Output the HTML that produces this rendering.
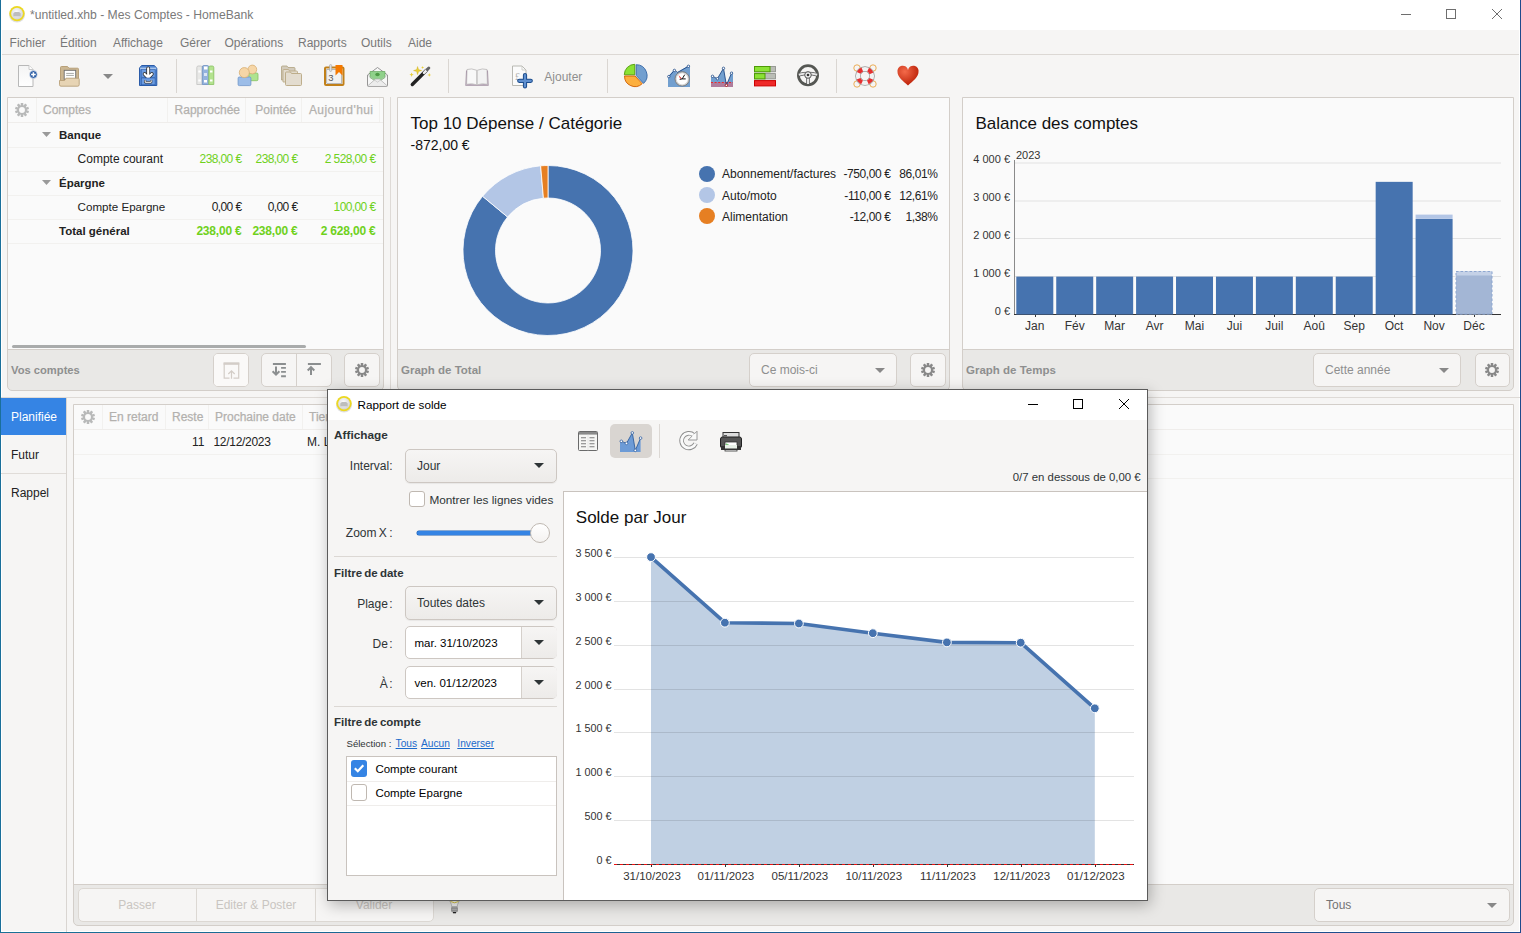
<!DOCTYPE html>
<html><head><meta charset="utf-8"><title>HomeBank</title><style>
html,body{margin:0;padding:0;width:1521px;height:933px;overflow:hidden;background:#f6f5f4}
.a{position:absolute}
.t{position:absolute;white-space:nowrap;font-family:"Liberation Sans",sans-serif;line-height:20px}
svg.a{overflow:visible}
</style></head><body>
<div class="a" style="left:0px;top:0px;width:1521px;height:933px;background:#f6f5f4"></div>
<div class="a" style="left:1px;top:0px;width:1519px;height:30px;background:#fff"></div>
<div class="a" style="left:0px;top:0px;width:1px;height:933px;background:#1a6f9a"></div>
<div class="a" style="left:1520px;top:0px;width:1px;height:933px;background:#1f4a8c"></div>
<div class="a" style="left:0px;top:932px;width:1521px;height:1px;background:linear-gradient(90deg,#1a7196,#1f4a8c)"></div>
<div class="a" style="left:1px;top:931px;width:1519px;height:1px;background:#fff"></div>
<div class="a" style="left:1519px;top:30px;width:1px;height:902px;background:#fff"></div>
<div class="a" style="left:1px;top:30px;width:1px;height:902px;background:#fff"></div>
<svg class="a" style="left:8px;top:5px;" width="18" height="18" viewBox="0 0 18 18"><defs><radialGradient id="ig8" cx=".45" cy=".35" r=".7"><stop offset="0" stop-color="#fbfbfc"/><stop offset="1" stop-color="#cfd0d4"/></radialGradient></defs><ellipse cx="9" cy="10" rx="8" ry="7.6" fill="#000" opacity=".12"/><circle cx="9" cy="8.6" r="7.7" fill="#ecd820"/><circle cx="9" cy="8.6" r="5.9" fill="url(#ig8)"/><path d="M5.3 11.2v-2.6l1.5-1.6h4.4l1.5 1.6v2.6z" fill="#bdbdbd"/></svg>
<div class="t" style="left:30px;top:5px;font-size:12.15px;color:#7a7a7a;">*untitled.xhb - Mes Comptes - HomeBank</div>
<div class="a" style="left:1401px;top:14px;width:10px;height:1px;background:#6e6e6e"></div>
<div class="a" style="left:1446px;top:9px;width:10px;height:10px;border:1px solid #6e6e6e;box-sizing:border-box"></div>
<svg class="a" style="left:1492px;top:9px;" width="10" height="10" viewBox="0 0 10 10"><path d="M0 0L10 10M10 0L0 10" stroke="#6e6e6e" stroke-width="1"/></svg>
<div class="t" style="left:9.6px;top:33px;font-size:12px;color:#787878;">Fichier</div>
<div class="t" style="left:60px;top:33px;font-size:12px;color:#787878;">Édition</div>
<div class="t" style="left:113px;top:33px;font-size:12px;color:#787878;">Affichage</div>
<div class="t" style="left:180px;top:33px;font-size:12px;color:#787878;">Gérer</div>
<div class="t" style="left:224.5px;top:33px;font-size:12px;color:#787878;">Opérations</div>
<div class="t" style="left:298px;top:33px;font-size:12px;color:#787878;">Rapports</div>
<div class="t" style="left:361px;top:33px;font-size:12px;color:#787878;">Outils</div>
<div class="t" style="left:408px;top:33px;font-size:12px;color:#787878;">Aide</div>
<div class="a" style="left:2px;top:54px;width:1517px;height:1px;background:#dcd8d4"></div>
<div class="a" style="left:176px;top:59px;width:1px;height:34px;background:#dad6d2"></div>
<div class="a" style="left:448px;top:59px;width:1px;height:34px;background:#dad6d2"></div>
<div class="a" style="left:607px;top:59px;width:1px;height:34px;background:#dad6d2"></div>
<div class="a" style="left:836px;top:59px;width:1px;height:34px;background:#dad6d2"></div>
<svg class="a" style="left:18px;top:64px;" width="20" height="24" viewBox="0 0 20 24"><defs><linearGradient id="pg" x1="0" y1="0" x2="0" y2="1"><stop offset="0" stop-color="#f4f4f4"/><stop offset="1" stop-color="#fff"/></linearGradient></defs><path d="M0.5 1.5h10.5l4 4v17h-14.5z" fill="url(#pg)" stroke="#b8b8b8"/><path d="M11 1.5v4h4" fill="#fff" stroke="#c9c9c9"/><circle cx="15.4" cy="10.5" r="3.9" fill="#2d5ea5" stroke="#fff" stroke-width=".6"/><path d="M15.4 8.2v4.6M13.1 10.5h4.6" stroke="#fff" stroke-width="1.5"/></svg>
<svg class="a" style="left:59px;top:65px;" width="21" height="22" viewBox="0 0 21 22"><path d="M1.5 2.5a1 1 0 0 1 1-1h6l1.5 1.7h8.5a1 1 0 0 1 1 1V16H1.5z" fill="#cbb692" stroke="#b39a70" stroke-width=".9"/><rect x="5.2" y="5.3" width="11.5" height="9" fill="#fff" stroke="#6e6e6e" stroke-width=".9"/><path d="M7.2 8.4h7.7M7.2 10.4h7.7" stroke="#a8aaa6" stroke-width="1"/><path d="M0.5 15.5h5l1.5-2.3h12.2a1 1 0 0 1 1 1v5.5a1.5 1.5 0 0 1-1.5 1.5H2a1.5 1.5 0 0 1-1.5-1.5z" fill="#e7d4b4" stroke="#b9a079" stroke-width=".9"/></svg>
<svg class="a" style="left:103px;top:74px;" width="10" height="6" viewBox="0 0 10 6"><path d="M0 0h10l-5 5z" fill="#888"/></svg>
<svg class="a" style="left:139px;top:65px;" width="19" height="21" viewBox="0 0 19 21"><path d="M2.6 0.5h12.6l2.6 2.6v17.4H0.5V3.1z" fill="#4f84d0" stroke="#2a5ba8" stroke-width="1"/><rect x="1.1" y="2.6" width="16.2" height="1.8" fill="#a9c5ec"/><rect x="2.3" y="4.6" width="13.8" height="7.6" fill="#6b9be0" stroke="#3b6cb8" stroke-width=".6"/><path d="M9.2 3.3v8.2M5.6 9l3.6 3.6 3.6-3.6" fill="none" stroke="#2b2b2b" stroke-width="3.8" stroke-linecap="round" stroke-linejoin="round"/><path d="M9.2 3.3v8.2M5.6 9l3.6 3.6 3.6-3.6" fill="none" stroke="#fff" stroke-width="2.2" stroke-linecap="round" stroke-linejoin="round"/><rect x="2.3" y="13" width="13.8" height="6.8" fill="#6b9be0" stroke="#2a5ba8" stroke-width=".6"/><path d="M6.2 15.3v2h6v-2" fill="none" stroke="#333" stroke-width="2.2" stroke-linejoin="round"/><path d="M6.2 15.3v2h6v-2" fill="none" stroke="#fff" stroke-width="1"/></svg>
<svg class="a" style="left:196px;top:65px;" width="19" height="21" viewBox="0 0 19 21"><path d="M0.8 2.5a1.5 1.5 0 0 1 1.5-1.5h2.5a1.5 1.5 0 0 1 1.5 1.5v17h-5.5z" fill="#e8e8e6" stroke="#c2c2c0" stroke-width=".8"/><path d="M6.3 2a1.5 1.5 0 0 1 1.5-1.5h3.5a1.5 1.5 0 0 1 1.5 1.5v17.5h-6.5z" fill="#94b3dd" stroke="#6d8fc0" stroke-width=".8"/><path d="M12.8 2.5a1.5 1.5 0 0 1 1.5-1.5h2a1.5 1.5 0 0 1 1.5 1.5v17h-5z" fill="#b4e38f" stroke="#86c060" stroke-width=".8"/><rect x="2.3" y="5.5" width="2.5" height="2" fill="#fff"/><rect x="2.3" y="14.5" width="2.5" height="2" fill="#fff"/><rect x="8" y="1.5" width="3.5" height="3" fill="#fff"/><rect x="8" y="8" width="3" height="3" fill="#dbe6f4"/><rect x="8" y="15" width="3" height="2.5" fill="#fff"/><rect x="14" y="5.5" width="2.5" height="2" fill="#fff"/><rect x="14" y="14.5" width="2.5" height="2" fill="#fff"/></svg>
<svg class="a" style="left:237px;top:64px;" width="22" height="22" viewBox="0 0 22 22"><rect x="11.8" y="9" width="9.2" height="7.7" rx="1.2" fill="#aee38f" stroke="#86c062" stroke-width=".8"/><circle cx="15.3" cy="5.5" r="4.4" fill="#f6d6a7" stroke="#d7ae74" stroke-width=".8"/><rect x="1.1" y="13" width="12.8" height="8.6" rx="1.2" fill="#9cbde8" stroke="#6f95c9" stroke-width=".8"/><circle cx="7.3" cy="8.6" r="5" fill="#f6d6a7" stroke="#d7ae74" stroke-width=".8"/></svg>
<svg class="a" style="left:281px;top:65px;" width="21" height="21" viewBox="0 0 21 21"><path d="M0.5 2a1 1 0 0 1 1-1h4.5l1 1.5h6a1 1 0 0 1 1 1v11.5h-13.5z" fill="#d3cbbc" stroke="#b0a27f" stroke-width=".8"/><path d="M2 5.5a1 1 0 0 1 1-1h4.5l1 1.5h7a1 1 0 0 1 1 1v10h-14.5z" fill="#e2dbcd" stroke="#b9a782" stroke-width=".8"/><path d="M4.5 8a1 1 0 0 1 1-1h4l1 1.5h9a1 1 0 0 1 1 1v10a1 1 0 0 1-1 1h-14a1 1 0 0 1-1-1z" fill="#e3dccf" stroke="#b9a782" stroke-width=".9"/></svg>
<svg class="a" style="left:324px;top:64px;" width="21" height="23" viewBox="0 0 21 23"><rect x="1" y="3.5" width="18.5" height="17.5" rx="1" fill="#fff" stroke="#c1801a" stroke-width="2"/><rect x="2.8" y="5.3" width="15" height="14" fill="#f1f1f1" stroke="#777" stroke-width=".5"/><text x="4.3" y="17" font-family="Liberation Sans" font-size="9.5" fill="#555">3</text><path d="M11.5 1h7v10.5l-3.5-3.5-3.5 3.5z" fill="#f57900"/><rect x="5.5" y="0.5" width="2.2" height="7" rx="1.1" fill="#ddd" stroke="#999" stroke-width=".5"/></svg>
<svg class="a" style="left:367px;top:66px;" width="21" height="21" viewBox="0 0 21 21"><path d="M0.5 9L10.5 1.5 20.5 9v10.5a0.8 0.8 0 0 1-.8.8h-18.4a0.8 0.8 0 0 1-.8-.8z" fill="#f7f7f7" stroke="#8a8a8a" stroke-width=".9"/><path d="M3 5.5h15v6l-7.5 5-7.5-5z" fill="#8fd18a" stroke="#5aa253" stroke-width=".6"/><ellipse cx="10.5" cy="8.5" rx="2.2" ry="1.8" fill="#4e9a46"/><path d="M0.8 19.8L8.5 13h4l7.7 6.8" fill="#ececec" stroke="#aaa" stroke-width=".7"/><path d="M0.8 9.2l9.7 7 9.7-7" fill="none" stroke="#bbb" stroke-width=".6"/></svg>
<svg class="a" style="left:410px;top:66px;" width="21" height="21" viewBox="0 0 21 21"><path d="M2.3 18.5L16.5 4.3" stroke="#222" stroke-width="3.4" stroke-linecap="round"/><path d="M14 6.8L17.3 3.5" stroke="#eee" stroke-width="2.6" stroke-linecap="round"/><path d="M17.3 3.5L18.8 2" stroke="#666" stroke-width="3" stroke-linecap="round"/><path d="M7.6 0.5l1 3.1 3.1 1-3.1 1-1 3.1-1-3.1-3.1-1 3.1-1z" fill="#e8cf3a" stroke="#c4a000" stroke-width=".3"/><path d="M1.6 6.5l.6 1.6 1.6.6-1.6.6-.6 1.6-.6-1.6-1.6-.6 1.6-.6z" fill="#e8cf3a"/><path d="M19.3 7l.5 1.4 1.4.5-1.4.5-.5 1.4-.5-1.4-1.4-.5 1.4-.5z" fill="#e8cf3a"/><path d="M12.6 0l.4 1.1 1.1.4-1.1.4-.4 1.1-.4-1.1-1.1-.4 1.1-.4z" fill="#e8cf3a"/></svg>
<svg class="a" style="left:465px;top:68px;" width="24" height="20" viewBox="0 0 24 20"><path d="M2 1.5q4.5-1.5 9.8 0.8v14.5q-5-1.8-10.2-.5z" fill="#f8f8f8" stroke="#b9b6b6" stroke-width=".8"/><path d="M22 1.5q-4.5-1.5-9.8 0.8v14.5q5-1.8 10.2-.5z" fill="#f2f2f2" stroke="#b9b6b6" stroke-width=".8"/><path d="M1.5 2.5L0.8 17.5h22.4l-.7-15" fill="none" stroke="#a898a8" stroke-width="1"/><path d="M0.8 16.5q5.5-1.2 11.2 0.8 5.7-2 11.2-.8v1.5h-22.4z" fill="#b6a8b6"/></svg>
<svg class="a" style="left:511px;top:65px;" width="22" height="22" viewBox="0 0 22 22"><path d="M1.5 1h9.5l4 4v15.5h-13.5z" fill="#fbfbfb" stroke="#b9b9b3" stroke-width="1"/><path d="M11 1v4h4" fill="none" stroke="#c8c8c2" stroke-width=".8"/><text x="4" y="15" font-family="Liberation Serif" font-size="10" fill="#b0b0b0">£</text><path d="M14 10v11.5M8.2 15.8h11.6" stroke="#1c4c8c" stroke-width="4.2" stroke-linecap="round"/><path d="M14 10v11.5M8.2 15.8h11.6" stroke="#5f8fcf" stroke-width="2.2" stroke-linecap="round"/></svg>
<div class="t" style="left:544.3px;top:66.5px;font-size:12px;color:#8f8f8f;">Ajouter</div>
<svg class="a" style="left:623px;top:63px;" width="25" height="25" viewBox="0 0 25 25"><path d="M11.8 11.8H1.3A10.5 10.5 0 0 1 11.8 1.3z" fill="#8ae234" stroke="#4e9a06" stroke-width=".9"/><path d="M13.2 12.5V1.7A10.8 10.8 0 0 1 20.57 20.4z" fill="#729fcf" stroke="#3465a4" stroke-width=".9"/><path d="M12 13L19.2 20.7A10.5 10.5 0 0 1 1.5 13z" fill="#fcaf3e" stroke="#ce5c00" stroke-width=".9"/></svg>
<svg class="a" style="left:667px;top:64px;" width="24" height="24" viewBox="0 0 24 24"><path d="M1 23V12.6L6.4 6.4 9.7 8.4 20.4 2.3 23 1V23z" fill="#729fcf"/><path d="M1.8 12.6L7.4 6.4 10.7 8.4 21.4 2.3" fill="none" stroke="#204a87" stroke-width=".9"/><g fill="#fff" stroke="#204a87" stroke-width=".8"><circle cx="1.8" cy="12.6" r="1.2"/><circle cx="7.4" cy="6.4" r="1.2"/><circle cx="21.4" cy="2.3" r="1.2"/></g><circle cx="15.2" cy="14.9" r="7.2" fill="#d3d3d3" stroke="#777" stroke-width=".9"/><circle cx="15.2" cy="14.9" r="5.6" fill="#fff"/><path d="M15.2 14.9L11.5 11l1.4 3.2z" fill="#ef2929"/><path d="M15.2 14.9l2.5-4.2M15.2 14.9h3.5M15.2 14.9l-2.5 .5" stroke="#111" stroke-width="1"/></svg>
<svg class="a" style="left:710px;top:65px;" width="24" height="23" viewBox="0 0 24 23"><path d="M1 22V11.3L7.4 13.7 13.5 3.3 16.4 20.3 21.5 8.2 23 6.5V22z" fill="#729fcf"/><rect x="1" y="17.5" width="22" height="4.5" fill="#b07c9c"/><path d="M1 17.5H23" stroke="#ef2929" stroke-width="1" stroke-dasharray="2 1.6"/><path d="M2.5 11.3L7.4 13.7 13.5 3.3 16.4 20.3 21.5 8.2" fill="none" stroke="#204a87" stroke-width=".9"/><g fill="#fff" stroke="#204a87" stroke-width=".8"><circle cx="2.5" cy="11.3" r="1.2"/><circle cx="7.4" cy="13.7" r="1.2"/><circle cx="13.5" cy="3.3" r="1.2"/><circle cx="21.5" cy="8.2" r="1.2"/></g><circle cx="16.4" cy="20.3" r="1.2" fill="#fff" stroke="#a40000" stroke-width=".8"/></svg>
<svg class="a" style="left:753px;top:65px;" width="24" height="22" viewBox="0 0 24 22"><rect x="1.5" y="1.5" width="21" height="5.3" fill="#babdb6" stroke="#888a85" stroke-width=".8"/><rect x="1.5" y="1.5" width="15.5" height="5.3" fill="#8ae234" stroke="#4e9a06" stroke-width="1"/><rect x="1.5" y="8.6" width="21" height="5.3" fill="#babdb6" stroke="#888a85" stroke-width=".8"/><rect x="1.5" y="8.6" width="10.5" height="5.3" fill="#8ae234" stroke="#4e9a06" stroke-width="1"/><rect x="1.5" y="15.6" width="21" height="5.3" fill="#ef2929" stroke="#cc0000" stroke-width="1"/></svg>
<svg class="a" style="left:796px;top:63px;" width="24" height="24" viewBox="0 0 24 24"><circle cx="12" cy="12.2" r="9.6" fill="none" stroke="#555753" stroke-width="2.8"/><path d="M2.8 11.8q9.2-2.5 18.4 0" fill="none" stroke="#555" stroke-width="3.4"/><path d="M2.8 11.8q9.2-2.5 18.4 0" fill="none" stroke="#e6e6e6" stroke-width="2"/><path d="M12 13v8" stroke="#555" stroke-width="3.6"/><path d="M12 13v8" stroke="#e6e6e6" stroke-width="2.2"/><circle cx="12" cy="12" r="3.3" fill="#eee" stroke="#555" stroke-width="1"/><circle cx="12" cy="12" r="1.3" fill="#333"/></svg>
<svg class="a" style="left:853px;top:64px;" width="24" height="24" viewBox="0 0 24 24"><g fill="none" stroke="#e9a545" stroke-width=".9"><circle cx="4" cy="4" r="3.2"/><circle cx="20" cy="4" r="3.2"/><circle cx="4" cy="20" r="3.2"/><circle cx="20" cy="20" r="3.2"/></g><circle cx="12" cy="12" r="7" fill="none" stroke="#999" stroke-width="5.6"/><circle cx="12" cy="12" r="7" fill="none" stroke="#f2f2f2" stroke-width="4.2"/><circle cx="12" cy="12" r="7" fill="none" stroke="#e53030" stroke-width="4.2" stroke-dasharray="5 5.996" stroke-dashoffset="-3.0"/></svg>
<svg class="a" style="left:897px;top:66px;" width="22" height="20" viewBox="0 0 22 20"><defs><radialGradient id="hg" cx=".35" cy=".3" r=".8"><stop offset="0" stop-color="#f46a4a"/><stop offset="1" stop-color="#b51800"/></radialGradient></defs><path d="M11 19.5C6 15 0.5 11 0.5 6A5.3 5.3 0 0 1 11 4 5.3 5.3 0 0 1 21.5 6C21.5 11 16 15 11 19.5z" fill="url(#hg)"/></svg>
<div class="a" style="left:7px;top:97px;width:377px;height:294px;background:#e9e8e6;border:1px solid #d3cec9;border-radius:0 0 5px 5px;box-sizing:border-box"></div>
<div class="a" style="left:8px;top:98px;width:375px;height:251px;background:#fafafa"></div>
<div class="a" style="left:8px;top:349px;width:375px;height:1px;background:#d3cec9"></div>
<div class="a" style="left:8px;top:122px;width:375px;height:1px;background:#efedeb"></div>
<div class="a" style="left:36px;top:98px;width:1px;height:24px;background:#f2f1ef"></div>
<div class="a" style="left:167px;top:98px;width:1px;height:24px;background:#f2f1ef"></div>
<div class="a" style="left:245px;top:98px;width:1px;height:24px;background:#f2f1ef"></div>
<div class="a" style="left:301px;top:98px;width:1px;height:24px;background:#f2f1ef"></div>
<div class="a" style="left:379px;top:98px;width:1px;height:24px;background:#f2f1ef"></div>
<svg class="a" style="left:14px;top:102px;" width="16" height="16" viewBox="0 0 16 16"><rect x="6.75" y="1" width="2.5" height="3.2" fill="#b8b9b9" transform="rotate(0 8 8)"/><rect x="6.75" y="1" width="2.5" height="3.2" fill="#b8b9b9" transform="rotate(36 8 8)"/><rect x="6.75" y="1" width="2.5" height="3.2" fill="#b8b9b9" transform="rotate(72 8 8)"/><rect x="6.75" y="1" width="2.5" height="3.2" fill="#b8b9b9" transform="rotate(108 8 8)"/><rect x="6.75" y="1" width="2.5" height="3.2" fill="#b8b9b9" transform="rotate(144 8 8)"/><rect x="6.75" y="1" width="2.5" height="3.2" fill="#b8b9b9" transform="rotate(180 8 8)"/><rect x="6.75" y="1" width="2.5" height="3.2" fill="#b8b9b9" transform="rotate(216 8 8)"/><rect x="6.75" y="1" width="2.5" height="3.2" fill="#b8b9b9" transform="rotate(252 8 8)"/><rect x="6.75" y="1" width="2.5" height="3.2" fill="#b8b9b9" transform="rotate(288 8 8)"/><rect x="6.75" y="1" width="2.5" height="3.2" fill="#b8b9b9" transform="rotate(324 8 8)"/><circle cx="8" cy="8" r="3.9" fill="none" stroke="#b8b9b9" stroke-width="1.9"/></svg>
<div class="t" style="left:43px;top:100px;font-size:12px;color:#b3b1ae;-webkit-text-stroke:.25px #b3b1ae">Comptes</div>
<div class="t" style="right:1281px;text-align:right;top:100px;font-size:12px;color:#b3b1ae;-webkit-text-stroke:.25px #b3b1ae">Rapprochée</div>
<div class="t" style="right:1225px;text-align:right;top:100px;font-size:12px;color:#b3b1ae;-webkit-text-stroke:.25px #b3b1ae">Pointée</div>
<div class="t" style="right:1147.5px;text-align:right;top:100px;font-size:12px;color:#b3b1ae;-webkit-text-stroke:.25px #b3b1ae;letter-spacing:.45px">Aujourd'hui</div>
<div class="a" style="left:8px;top:147px;width:375px;height:1px;background:#f2f1ef"></div>
<div class="a" style="left:8px;top:171px;width:375px;height:1px;background:#f2f1ef"></div>
<div class="a" style="left:8px;top:195px;width:375px;height:1px;background:#f2f1ef"></div>
<div class="a" style="left:8px;top:219px;width:375px;height:1px;background:#f2f1ef"></div>
<div class="a" style="left:8px;top:243px;width:375px;height:1px;background:#f2f1ef"></div>
<svg class="a" style="left:42px;top:132px;" width="10" height="6" viewBox="0 0 10 6"><path d="M0 0h9l-4.5 5z" fill="#9a9a9a"/></svg>
<div class="t" style="left:59px;top:125px;font-size:11.5px;color:#222;font-weight:bold;">Banque</div>
<div class="t" style="left:77.6px;top:149px;font-size:12px;color:#222;">Compte courant</div>
<div class="t" style="right:1279.5px;text-align:right;top:149px;font-size:12px;color:#6fd11c;letter-spacing:-.6px">238,00 €</div>
<div class="t" style="right:1223.5px;text-align:right;top:149px;font-size:12px;color:#6fd11c;letter-spacing:-.6px">238,00 €</div>
<div class="t" style="right:1145.5px;text-align:right;top:149px;font-size:12px;color:#6fd11c;letter-spacing:-.6px">2 528,00 €</div>
<svg class="a" style="left:42px;top:180px;" width="10" height="6" viewBox="0 0 10 6"><path d="M0 0h9l-4.5 5z" fill="#9a9a9a"/></svg>
<div class="t" style="left:59px;top:173px;font-size:11.5px;color:#222;font-weight:bold;">Épargne</div>
<div class="t" style="left:77.6px;top:197px;font-size:11.6px;color:#222;">Compte Epargne</div>
<div class="t" style="right:1279.5px;text-align:right;top:197px;font-size:12px;color:#222;letter-spacing:-.6px">0,00 €</div>
<div class="t" style="right:1223.5px;text-align:right;top:197px;font-size:12px;color:#222;letter-spacing:-.6px">0,00 €</div>
<div class="t" style="right:1145.5px;text-align:right;top:197px;font-size:12px;color:#6fd11c;letter-spacing:-.6px">100,00 €</div>
<div class="t" style="left:59px;top:221px;font-size:11.5px;color:#222;font-weight:bold;">Total général</div>
<div class="t" style="right:1279.5px;text-align:right;top:221px;font-size:12px;color:#6fd11c;font-weight:bold;letter-spacing:-.2px">238,00 €</div>
<div class="t" style="right:1223.5px;text-align:right;top:221px;font-size:12px;color:#6fd11c;font-weight:bold;letter-spacing:-.2px">238,00 €</div>
<div class="t" style="right:1145.5px;text-align:right;top:221px;font-size:12px;color:#6fd11c;font-weight:bold;letter-spacing:-.2px">2 628,00 €</div>
<div class="a" style="left:12px;top:345px;width:294px;height:3px;background:#a9abab;border-radius:2px"></div>
<div class="t" style="left:11px;top:360px;font-size:11.2px;color:#8e8f8f;font-weight:bold;">Vos comptes</div>
<div class="a" style="left:213px;top:353px;width:36px;height:34px;background:#f6f5f4;border:1px solid #d5d0cb;border-radius:5px;box-sizing:border-box;"></div>
<div class="a" style="left:214px;top:354px;width:34px;height:32px;background:#faf9f8;border-radius:4px"></div>
<svg class="a" style="left:222px;top:361px;" width="18" height="18" viewBox="0 0 18 18"><path d="M7.5 17.2H2.2V2.2h14.5v15h-5.2" fill="none" stroke="#d3cdc7" stroke-width="1.2"/><rect x="1.6" y="1.6" width="15.7" height="2.2" fill="#d3cdc7"/><path d="M9.5 17.8V10M6.3 13l3.2-3.2 3.2 3.2" fill="none" stroke="#d3cdc7" stroke-width="1.2"/></svg>
<div class="a" style="left:261px;top:353px;width:71px;height:34px;background:#f6f5f4;border:1px solid #d5d0cb;border-radius:5px;box-sizing:border-box;"></div>
<div class="a" style="left:296px;top:354px;width:1px;height:32px;background:#d5d0cb"></div>
<svg class="a" style="left:270px;top:362px;" width="18" height="16" viewBox="0 0 18 16"><rect x="2.9" y="1" width="13" height="2" fill="#8b8e8f"/><path d="M6 4.5v8M2.6 9.3L6 12.7l3.4-3.4" fill="none" stroke="#8b8e8f" stroke-width="2"/><path d="M11.1 5.9h4.8M11.1 9.9h4.8M11.1 14.2h4.8" stroke="#8b8e8f" stroke-width="1.9"/></svg>
<svg class="a" style="left:306px;top:362px;" width="16" height="14" viewBox="0 0 16 14"><rect x="1.9" y="1" width="13" height="2" fill="#8b8e8f"/><path d="M5 13V5.5M1.7 8.5L5 5.2l3.3 3.3" fill="none" stroke="#8b8e8f" stroke-width="2"/></svg>
<div class="a" style="left:344px;top:353px;width:36px;height:34px;background:#f6f5f4;border:1px solid #d5d0cb;border-radius:5px;box-sizing:border-box;"></div>
<svg class="a" style="left:354px;top:362px;" width="16" height="16" viewBox="0 0 16 16"><rect x="6.75" y="1" width="2.5" height="3.2" fill="#888" transform="rotate(0 8 8)"/><rect x="6.75" y="1" width="2.5" height="3.2" fill="#888" transform="rotate(36 8 8)"/><rect x="6.75" y="1" width="2.5" height="3.2" fill="#888" transform="rotate(72 8 8)"/><rect x="6.75" y="1" width="2.5" height="3.2" fill="#888" transform="rotate(108 8 8)"/><rect x="6.75" y="1" width="2.5" height="3.2" fill="#888" transform="rotate(144 8 8)"/><rect x="6.75" y="1" width="2.5" height="3.2" fill="#888" transform="rotate(180 8 8)"/><rect x="6.75" y="1" width="2.5" height="3.2" fill="#888" transform="rotate(216 8 8)"/><rect x="6.75" y="1" width="2.5" height="3.2" fill="#888" transform="rotate(252 8 8)"/><rect x="6.75" y="1" width="2.5" height="3.2" fill="#888" transform="rotate(288 8 8)"/><rect x="6.75" y="1" width="2.5" height="3.2" fill="#888" transform="rotate(324 8 8)"/><circle cx="8" cy="8" r="3.9" fill="none" stroke="#888" stroke-width="1.9"/></svg>
<div class="a" style="left:390px;top:97px;width:1px;height:294px;background:#dedad6"></div>
<div class="a" style="left:397px;top:97px;width:553px;height:294px;background:#e9e8e6;border:1px solid #d3cec9;border-radius:0 0 5px 5px;box-sizing:border-box"></div>
<div class="a" style="left:398px;top:98px;width:551px;height:251px;background:#fafafa"></div>
<div class="a" style="left:398px;top:349px;width:551px;height:1px;background:#d3cec9"></div>
<div class="t" style="left:410.5px;top:114px;font-size:17px;color:#111;">Top 10 Dépense / Catégorie</div>
<div class="t" style="left:410.5px;top:135px;font-size:14px;color:#111;">-872,00 €</div>
<svg class="a" style="left:0;top:0" width="1521" height="933"><path d="M548.00 165.50A85 85 0 1 1 482.54 196.28L507.57 217.01A52.5 52.5 0 1 0 548.00 198.00z" fill="#4673af" stroke="#fff" stroke-width="0.8"/><path d="M482.54 196.28A85 85 0 0 1 540.64 165.82L543.45 198.20A52.5 52.5 0 0 0 507.57 217.01z" fill="#b3c6e6" stroke="#fff" stroke-width="0.8"/><path d="M540.64 165.82A85 85 0 0 1 548.00 165.50L548.00 198.00A52.5 52.5 0 0 0 543.45 198.20z" fill="#e67f22" stroke="#fff" stroke-width="0.8"/></svg>
<div class="a" style="left:698.5px;top:165.8px;width:16px;height:16px;background:#4673af;border-radius:50%"></div>
<div class="t" style="left:722px;top:164.3px;font-size:12px;color:#222;">Abonnement/factures</div>
<div class="t" style="right:630.5px;text-align:right;top:164.3px;font-size:12px;color:#222;letter-spacing:-.4px">-750,00 €</div>
<div class="t" style="right:583.5px;text-align:right;top:164.3px;font-size:12px;color:#222;letter-spacing:-.4px">86,01%</div>
<div class="a" style="left:698.5px;top:187px;width:16px;height:16px;background:#b3c6e6;border-radius:50%"></div>
<div class="t" style="left:722px;top:185.5px;font-size:12px;color:#222;">Auto/moto</div>
<div class="t" style="right:630.5px;text-align:right;top:185.5px;font-size:12px;color:#222;letter-spacing:-.4px">-110,00 €</div>
<div class="t" style="right:583.5px;text-align:right;top:185.5px;font-size:12px;color:#222;letter-spacing:-.4px">12,61%</div>
<div class="a" style="left:698.5px;top:208.2px;width:16px;height:16px;background:#e67f22;border-radius:50%"></div>
<div class="t" style="left:722px;top:206.7px;font-size:12px;color:#222;">Alimentation</div>
<div class="t" style="right:630.5px;text-align:right;top:206.7px;font-size:12px;color:#222;letter-spacing:-.4px">-12,00 €</div>
<div class="t" style="right:583.5px;text-align:right;top:206.7px;font-size:12px;color:#222;letter-spacing:-.4px">1,38%</div>
<div class="t" style="left:401px;top:360px;font-size:11.5px;color:#8e8f8f;font-weight:bold;">Graph de Total</div>
<div class="a" style="left:749px;top:353px;width:148px;height:34px;background:#f6f5f4;border:1px solid #d5d0cb;border-radius:5px;box-sizing:border-box;"></div>
<div class="t" style="left:761px;top:360px;font-size:12px;color:#8e8f8f;">Ce mois-ci</div>
<svg class="a" style="left:875px;top:368px;" width="10" height="6" viewBox="0 0 10 6"><path d="M0 0h10l-5 5z" fill="#888"/></svg>
<div class="a" style="left:910px;top:353px;width:36px;height:34px;background:#f6f5f4;border:1px solid #d5d0cb;border-radius:5px;box-sizing:border-box;"></div>
<svg class="a" style="left:920px;top:362px;" width="16" height="16" viewBox="0 0 16 16"><rect x="6.75" y="1" width="2.5" height="3.2" fill="#888" transform="rotate(0 8 8)"/><rect x="6.75" y="1" width="2.5" height="3.2" fill="#888" transform="rotate(36 8 8)"/><rect x="6.75" y="1" width="2.5" height="3.2" fill="#888" transform="rotate(72 8 8)"/><rect x="6.75" y="1" width="2.5" height="3.2" fill="#888" transform="rotate(108 8 8)"/><rect x="6.75" y="1" width="2.5" height="3.2" fill="#888" transform="rotate(144 8 8)"/><rect x="6.75" y="1" width="2.5" height="3.2" fill="#888" transform="rotate(180 8 8)"/><rect x="6.75" y="1" width="2.5" height="3.2" fill="#888" transform="rotate(216 8 8)"/><rect x="6.75" y="1" width="2.5" height="3.2" fill="#888" transform="rotate(252 8 8)"/><rect x="6.75" y="1" width="2.5" height="3.2" fill="#888" transform="rotate(288 8 8)"/><rect x="6.75" y="1" width="2.5" height="3.2" fill="#888" transform="rotate(324 8 8)"/><circle cx="8" cy="8" r="3.9" fill="none" stroke="#888" stroke-width="1.9"/></svg>
<div class="a" style="left:962px;top:97px;width:552px;height:294px;background:#e9e8e6;border:1px solid #d3cec9;border-radius:0 0 5px 5px;box-sizing:border-box"></div>
<div class="a" style="left:963px;top:98px;width:550px;height:251px;background:#fafafa"></div>
<div class="a" style="left:963px;top:349px;width:550px;height:1px;background:#d3cec9"></div>
<div class="t" style="left:975.5px;top:114px;font-size:17px;color:#111;">Balance des comptes</div>
<svg class="a" style="left:0;top:0" width="1521" height="933"><path d="M1015 163H1501" stroke="#e2e2e2" stroke-width="1"/><path d="M1015 201H1501" stroke="#e2e2e2" stroke-width="1"/><path d="M1015 238.5H1501" stroke="#e2e2e2" stroke-width="1"/><path d="M1015 276.5H1501" stroke="#e2e2e2" stroke-width="1"/><path d="M1015 314.5H1501" stroke="#e2e2e2" stroke-width="1"/><path d="M1014.5 160V315" stroke="#8a8a8a" stroke-width="1"/><path d="M1014 314.5H1501" stroke="#333" stroke-width="1"/><path d="M1035.5 315V317" stroke="#333"/><path d="M1075.5 315V317" stroke="#333"/><path d="M1115.5 315V317" stroke="#333"/><path d="M1155.5 315V317" stroke="#333"/><path d="M1194.5 315V317" stroke="#333"/><path d="M1234.5 315V317" stroke="#333"/><path d="M1274.5 315V317" stroke="#333"/><path d="M1314.5 315V317" stroke="#333"/><path d="M1354.5 315V317" stroke="#333"/><path d="M1394.5 315V317" stroke="#333"/><path d="M1434.5 315V317" stroke="#333"/><path d="M1474.5 315V317" stroke="#333"/><rect x="1016.3" y="276.6" width="37" height="37.89999999999998" fill="#4673af"/><rect x="1056.23" y="276.6" width="37" height="37.89999999999998" fill="#4673af"/><rect x="1096.1599999999999" y="276.6" width="37" height="37.89999999999998" fill="#4673af"/><rect x="1136.09" y="276.6" width="37" height="37.89999999999998" fill="#4673af"/><rect x="1176.02" y="276.6" width="37" height="37.89999999999998" fill="#4673af"/><rect x="1215.95" y="276.6" width="37" height="37.89999999999998" fill="#4673af"/><rect x="1255.8799999999999" y="276.6" width="37" height="37.89999999999998" fill="#4673af"/><rect x="1295.81" y="276.6" width="37" height="37.89999999999998" fill="#4673af"/><rect x="1335.74" y="276.6" width="37" height="37.89999999999998" fill="#4673af"/><rect x="1375.67" y="181.85" width="37" height="132.65" fill="#4673af"/><rect x="1415.6" y="218.99200000000002" width="37" height="95.50799999999998" fill="#4673af"/><rect x="1456.03" y="271.5" width="36" height="43" fill="#a3b6d5"/><rect x="1456.03" y="271.5" width="36" height="4" fill="#c4d1e7"/><rect x="1456.03" y="271.5" width="36" height="42.5" fill="none" stroke="#8ea7d0" stroke-dasharray="2.5 2"/><rect x="1415.6" y="214.6" width="37" height="4.3" fill="#b3c6e6"/></svg>
<div class="t" style="right:511px;text-align:right;top:149px;font-size:11px;color:#333;">4 000 €</div>
<div class="t" style="right:511px;text-align:right;top:187px;font-size:11px;color:#333;">3 000 €</div>
<div class="t" style="right:511px;text-align:right;top:224.5px;font-size:11px;color:#333;">2 000 €</div>
<div class="t" style="right:511px;text-align:right;top:262.5px;font-size:11px;color:#333;">1 000 €</div>
<div class="t" style="right:511px;text-align:right;top:300.5px;font-size:11px;color:#333;">0 €</div>
<div class="t" style="left:1016px;top:145px;font-size:11px;color:#333;">2023</div>
<div class="t" style="left:634.75px;width:800px;text-align:center;top:316px;font-size:12px;color:#333;">Jan</div>
<div class="t" style="left:674.6800000000001px;width:800px;text-align:center;top:316px;font-size:12px;color:#333;">Fév</div>
<div class="t" style="left:714.6099999999999px;width:800px;text-align:center;top:316px;font-size:12px;color:#333;">Mar</div>
<div class="t" style="left:754.54px;width:800px;text-align:center;top:316px;font-size:12px;color:#333;">Avr</div>
<div class="t" style="left:794.47px;width:800px;text-align:center;top:316px;font-size:12px;color:#333;">Mai</div>
<div class="t" style="left:834.4000000000001px;width:800px;text-align:center;top:316px;font-size:12px;color:#333;">Jui</div>
<div class="t" style="left:874.3299999999999px;width:800px;text-align:center;top:316px;font-size:12px;color:#333;">Juil</div>
<div class="t" style="left:914.26px;width:800px;text-align:center;top:316px;font-size:12px;color:#333;">Aoû</div>
<div class="t" style="left:954.19px;width:800px;text-align:center;top:316px;font-size:12px;color:#333;">Sep</div>
<div class="t" style="left:994.1199999999999px;width:800px;text-align:center;top:316px;font-size:12px;color:#333;">Oct</div>
<div class="t" style="left:1034.05px;width:800px;text-align:center;top:316px;font-size:12px;color:#333;">Nov</div>
<div class="t" style="left:1073.98px;width:800px;text-align:center;top:316px;font-size:12px;color:#333;">Déc</div>
<div class="t" style="left:966px;top:360px;font-size:11.5px;color:#8e8f8f;font-weight:bold;">Graph de Temps</div>
<div class="a" style="left:1313px;top:353px;width:148px;height:34px;background:#f6f5f4;border:1px solid #d5d0cb;border-radius:5px;box-sizing:border-box;"></div>
<div class="t" style="left:1325px;top:360px;font-size:12px;color:#8e8f8f;">Cette année</div>
<svg class="a" style="left:1439px;top:368px;" width="10" height="6" viewBox="0 0 10 6"><path d="M0 0h10l-5 5z" fill="#888"/></svg>
<div class="a" style="left:1475px;top:353px;width:35px;height:34px;background:#f6f5f4;border:1px solid #d5d0cb;border-radius:5px;box-sizing:border-box;"></div>
<svg class="a" style="left:1484px;top:362px;" width="16" height="16" viewBox="0 0 16 16"><rect x="6.75" y="1" width="2.5" height="3.2" fill="#888" transform="rotate(0 8 8)"/><rect x="6.75" y="1" width="2.5" height="3.2" fill="#888" transform="rotate(36 8 8)"/><rect x="6.75" y="1" width="2.5" height="3.2" fill="#888" transform="rotate(72 8 8)"/><rect x="6.75" y="1" width="2.5" height="3.2" fill="#888" transform="rotate(108 8 8)"/><rect x="6.75" y="1" width="2.5" height="3.2" fill="#888" transform="rotate(144 8 8)"/><rect x="6.75" y="1" width="2.5" height="3.2" fill="#888" transform="rotate(180 8 8)"/><rect x="6.75" y="1" width="2.5" height="3.2" fill="#888" transform="rotate(216 8 8)"/><rect x="6.75" y="1" width="2.5" height="3.2" fill="#888" transform="rotate(252 8 8)"/><rect x="6.75" y="1" width="2.5" height="3.2" fill="#888" transform="rotate(288 8 8)"/><rect x="6.75" y="1" width="2.5" height="3.2" fill="#888" transform="rotate(324 8 8)"/><circle cx="8" cy="8" r="3.9" fill="none" stroke="#888" stroke-width="1.9"/></svg>
<div class="a" style="left:1px;top:397px;width:1519px;height:1px;background:#dedad6"></div>
<div class="a" style="left:66px;top:398px;width:1px;height:534px;background:#d9d5d1"></div>
<div class="a" style="left:1px;top:398px;width:65px;height:37px;background:#3584e4"></div>
<div class="t" style="left:11px;top:407px;font-size:12px;color:#fff;">Planifiée</div>
<div class="t" style="left:11px;top:445px;font-size:12px;color:#222;">Futur</div>
<div class="a" style="left:1px;top:473px;width:65px;height:1px;background:#e0dcd8"></div>
<div class="t" style="left:11px;top:483px;font-size:12px;color:#222;">Rappel</div>
<div class="a" style="left:73px;top:404px;width:1441px;height:522px;background:#e9e8e6;border:1px solid #d3cec9;border-radius:0 0 5px 5px;box-sizing:border-box"></div>
<div class="a" style="left:74px;top:405px;width:1439px;height:479px;background:#fafafa"></div>
<div class="a" style="left:74px;top:884px;width:1439px;height:1px;background:#d3cec9"></div>
<div class="a" style="left:74px;top:429px;width:1439px;height:1px;background:#efedeb"></div>
<div class="a" style="left:102px;top:405px;width:1px;height:24px;background:#f2f1ef"></div>
<div class="a" style="left:165px;top:405px;width:1px;height:24px;background:#f2f1ef"></div>
<div class="a" style="left:208px;top:405px;width:1px;height:24px;background:#f2f1ef"></div>
<div class="a" style="left:302px;top:405px;width:1px;height:24px;background:#f2f1ef"></div>
<svg class="a" style="left:80px;top:409px;" width="16" height="16" viewBox="0 0 16 16"><rect x="6.75" y="1" width="2.5" height="3.2" fill="#b8b9b9" transform="rotate(0 8 8)"/><rect x="6.75" y="1" width="2.5" height="3.2" fill="#b8b9b9" transform="rotate(36 8 8)"/><rect x="6.75" y="1" width="2.5" height="3.2" fill="#b8b9b9" transform="rotate(72 8 8)"/><rect x="6.75" y="1" width="2.5" height="3.2" fill="#b8b9b9" transform="rotate(108 8 8)"/><rect x="6.75" y="1" width="2.5" height="3.2" fill="#b8b9b9" transform="rotate(144 8 8)"/><rect x="6.75" y="1" width="2.5" height="3.2" fill="#b8b9b9" transform="rotate(180 8 8)"/><rect x="6.75" y="1" width="2.5" height="3.2" fill="#b8b9b9" transform="rotate(216 8 8)"/><rect x="6.75" y="1" width="2.5" height="3.2" fill="#b8b9b9" transform="rotate(252 8 8)"/><rect x="6.75" y="1" width="2.5" height="3.2" fill="#b8b9b9" transform="rotate(288 8 8)"/><rect x="6.75" y="1" width="2.5" height="3.2" fill="#b8b9b9" transform="rotate(324 8 8)"/><circle cx="8" cy="8" r="3.9" fill="none" stroke="#b8b9b9" stroke-width="1.9"/></svg>
<div class="t" style="left:109px;top:407px;font-size:12px;color:#b3b1ae;-webkit-text-stroke:.25px #b3b1ae">En retard</div>
<div class="t" style="left:172px;top:407px;font-size:12px;color:#b3b1ae;-webkit-text-stroke:.25px #b3b1ae">Reste</div>
<div class="t" style="left:215px;top:407px;font-size:12px;color:#b3b1ae;-webkit-text-stroke:.25px #b3b1ae">Prochaine date</div>
<div class="t" style="left:309px;top:407px;font-size:12px;color:#b3b1ae;-webkit-text-stroke:.25px #b3b1ae">Tiers</div>
<div class="a" style="left:74px;top:454px;width:1439px;height:1px;background:#f2f1ef"></div>
<div class="a" style="left:74px;top:478px;width:1439px;height:1px;background:#f2f1ef"></div>
<div class="t" style="right:1316.5px;text-align:right;top:432px;font-size:12px;color:#222;">11</div>
<div class="t" style="left:213.5px;top:432px;font-size:12px;color:#222;letter-spacing:-.3px">12/12/2023</div>
<div class="t" style="left:307px;top:432px;font-size:12px;color:#222;">M. L</div>
<div class="a" style="left:78px;top:888px;width:356px;height:34px;background:#f6f5f4;border:1px solid #dcd8d3;border-radius:5px;box-sizing:border-box"></div>
<div class="a" style="left:196px;top:889px;width:1px;height:32px;background:#dcd8d3"></div>
<div class="a" style="left:315px;top:889px;width:1px;height:32px;background:#dcd8d3"></div>
<div class="t" style="left:-263px;width:800px;text-align:center;top:895px;font-size:12px;color:#c9c5c1;">Passer</div>
<div class="t" style="left:-144px;width:800px;text-align:center;top:895px;font-size:12px;color:#c9c5c1;">Editer &amp; Poster</div>
<div class="t" style="left:-26px;width:800px;text-align:center;top:895px;font-size:12px;color:#c9c5c1;">Valider</div>
<svg class="a" style="left:447px;top:893px;" width="16" height="22" viewBox="0 0 16 22"><path d="M2.5 6a5 5 0 0 1 10 0c0 3-2.3 4.5-2.3 8h-5.4c0-3.5-2.3-5-2.3-8z" fill="#f4f4f2" stroke="#a8a8a8" stroke-width=".7"/><path d="M3.5 8.5q4 2.5 8 0" fill="none" stroke="#d8c640" stroke-width="1"/><rect x="4.6" y="14" width="5.8" height="5" rx="1" fill="#b9b9b9" stroke="#6f6f6f" stroke-width=".6"/><path d="M4.8 15.7h5.4M4.8 17.4h5.4" stroke="#777" stroke-width=".6"/><rect x="6" y="19" width="3" height="1.3" fill="#222"/></svg>
<div class="a" style="left:1314px;top:888px;width:196px;height:34px;background:#f6f5f4;border:1px solid #d5d0cb;border-radius:5px;box-sizing:border-box;"></div>
<div class="t" style="left:1326px;top:895px;font-size:12px;color:#747474;">Tous</div>
<svg class="a" style="left:1487px;top:902.5px;" width="10" height="6" viewBox="0 0 10 6"><path d="M0 0h10l-5 5z" fill="#888"/></svg>
<!--DIALOG-->
<div class="a" style="left:327px;top:389px;width:821px;height:512px;box-shadow:2px 4px 14px rgba(0,0,0,.28)"></div>
<div class="a" style="left:327px;top:389px;width:821px;height:512px;background:#f6f5f4;border:1px solid #5b5b5b;box-sizing:border-box"></div>
<div class="a" style="left:328px;top:390px;width:819px;height:30px;background:#fff"></div>
<svg class="a" style="left:335px;top:395px;" width="18" height="18" viewBox="0 0 18 18"><defs><radialGradient id="ig335" cx=".45" cy=".35" r=".7"><stop offset="0" stop-color="#fbfbfc"/><stop offset="1" stop-color="#cfd0d4"/></radialGradient></defs><ellipse cx="9" cy="10" rx="8" ry="7.6" fill="#000" opacity=".12"/><circle cx="9" cy="8.6" r="7.7" fill="#ecd820"/><circle cx="9" cy="8.6" r="5.9" fill="url(#ig335)"/><path d="M5.3 11.2v-2.6l1.5-1.6h4.4l1.5 1.6v2.6z" fill="#bdbdbd"/></svg>
<div class="t" style="left:357.5px;top:395px;font-size:11.7px;color:#000;">Rapport de solde</div>
<div class="a" style="left:1028px;top:404px;width:10px;height:1px;background:#000"></div>
<div class="a" style="left:1073px;top:399px;width:10px;height:10px;border:1px solid #000;box-sizing:border-box"></div>
<svg class="a" style="left:1119px;top:399px;" width="10" height="10" viewBox="0 0 10 10"><path d="M0 0L10 10M10 0L0 10" stroke="#000" stroke-width="1"/></svg>
<div class="t" style="left:334px;top:425px;font-size:11.8px;color:#2e3436;font-weight:bold;">Affichage</div>
<div class="t" style="right:1128.5px;text-align:right;top:456px;font-size:12px;color:#2e3436;">Interval:</div>
<div class="a" style="left:405px;top:449px;width:152px;height:34px;background:linear-gradient(#f6f5f4,#edebe9);border:1px solid #cdc7c2;border-radius:5px;box-sizing:border-box;box-shadow:0 1px 1px rgba(0,0,0,.06)"></div>
<div class="t" style="left:417px;top:456px;font-size:12px;color:#2e3436;">Jour</div>
<svg class="a" style="left:534px;top:463px;" width="10" height="6" viewBox="0 0 10 6"><path d="M0 0h10l-5 5z" fill="#2e3436"/></svg>
<div class="a" style="left:409px;top:491px;width:16px;height:16px;background:#fff;border:1px solid #bfb8b1;border-radius:3px;box-sizing:border-box"></div>
<div class="t" style="left:429.4px;top:489.5px;font-size:11.8px;color:#2e3436;">Montrer les lignes vides</div>
<div class="t" style="right:1128.5px;text-align:right;top:523px;font-size:12px;color:#2e3436;word-spacing:-1px">Zoom X :</div>
<div class="a" style="left:417px;top:531px;width:124px;height:4px;background:#3584e4;border-radius:2px;box-shadow:0 0 0 .5px #1c5fb0"></div>
<div class="a" style="left:530px;top:523px;width:20px;height:20px;border-radius:50%;background:linear-gradient(#fff,#f4f2f0);border:1px solid #bfb8b1;box-sizing:border-box"></div>
<div class="a" style="left:334px;top:556px;width:223px;height:1px;background:#dcd8d4"></div>
<div class="t" style="left:334px;top:562.5px;font-size:11.5px;color:#2e3436;font-weight:bold;word-spacing:-1px">Filtre de date</div>
<div class="t" style="right:1128.5px;text-align:right;top:593.5px;font-size:12px;color:#2e3436;word-spacing:-2px">Plage :</div>
<div class="a" style="left:405px;top:586px;width:152px;height:34px;background:linear-gradient(#f6f5f4,#edebe9);border:1px solid #cdc7c2;border-radius:5px;box-sizing:border-box;box-shadow:0 1px 1px rgba(0,0,0,.06)"></div>
<div class="t" style="left:417px;top:593px;font-size:12px;color:#2e3436;">Toutes dates</div>
<svg class="a" style="left:534px;top:600px;" width="10" height="6" viewBox="0 0 10 6"><path d="M0 0h10l-5 5z" fill="#2e3436"/></svg>
<div class="t" style="right:1128.5px;text-align:right;top:633.5px;font-size:12px;color:#2e3436;word-spacing:-2px">De :</div>
<div class="a" style="left:405px;top:626px;width:152px;height:33px;background:#fff;border:1px solid #cdc7c2;border-radius:5px;box-sizing:border-box"></div>
<div class="a" style="left:521px;top:627px;width:35px;height:31px;background:linear-gradient(#f6f5f4,#edebe9);border-left:1px solid #d5d0cb;border-radius:0 4px 4px 0"></div>
<div class="t" style="left:414.5px;top:633px;font-size:11.5px;color:#000;">mar. 31/10/2023</div>
<svg class="a" style="left:533.5px;top:640px;" width="10" height="6" viewBox="0 0 10 6"><path d="M0 0h10l-5 5z" fill="#2e3436"/></svg>
<div class="t" style="right:1128.5px;text-align:right;top:673.5px;font-size:12px;color:#2e3436;word-spacing:-2px">À :</div>
<div class="a" style="left:405px;top:666px;width:152px;height:33px;background:#fff;border:1px solid #cdc7c2;border-radius:5px;box-sizing:border-box"></div>
<div class="a" style="left:521px;top:667px;width:35px;height:31px;background:linear-gradient(#f6f5f4,#edebe9);border-left:1px solid #d5d0cb;border-radius:0 4px 4px 0"></div>
<div class="t" style="left:414.5px;top:673px;font-size:11.5px;color:#000;">ven. 01/12/2023</div>
<svg class="a" style="left:533.5px;top:680px;" width="10" height="6" viewBox="0 0 10 6"><path d="M0 0h10l-5 5z" fill="#2e3436"/></svg>
<div class="a" style="left:334px;top:706px;width:223px;height:1px;background:#dcd8d4"></div>
<div class="t" style="left:334px;top:712px;font-size:11.5px;color:#2e3436;font-weight:bold;word-spacing:-1px">Filtre de compte</div>
<div class="t" style="left:346.5px;top:734px;font-size:9.6px;color:#2e3436;">Sélection :</div>
<div class="t" style="left:395.6px;top:734px;font-size:10.2px;color:#1b6acb;text-decoration:underline">Tous</div>
<div class="t" style="left:421px;top:734px;font-size:10.2px;color:#1b6acb;text-decoration:underline">Aucun</div>
<div class="t" style="left:457.3px;top:734px;font-size:10.2px;color:#1b6acb;text-decoration:underline">Inverser</div>
<div class="a" style="left:346px;top:756px;width:211px;height:120px;background:#fff;border:1px solid #c9c3be;box-sizing:border-box"></div>
<div class="a" style="left:350.5px;top:760px;width:16.5px;height:16.5px;background:#3584e4;border-radius:3px"></div>
<svg class="a" style="left:351px;top:760px;" width="16" height="16" viewBox="0 0 16 16"><path d="M3.8 8.2l3 3 5.5-6" fill="none" stroke="#fff" stroke-width="2.2"/></svg>
<div class="t" style="left:375.4px;top:759px;font-size:11.5px;color:#000;">Compte courant</div>
<div class="a" style="left:347px;top:781px;width:209px;height:1px;background:#efedeb"></div>
<div class="a" style="left:350.5px;top:784px;width:16.5px;height:16.5px;background:#fff;border:1px solid #bfb8b1;border-radius:3px;box-sizing:border-box"></div>
<div class="t" style="left:375.4px;top:783px;font-size:11.5px;color:#000;">Compte Epargne</div>
<div class="a" style="left:347px;top:805px;width:209px;height:1px;background:#efedeb"></div>
<svg class="a" style="left:578px;top:431px;" width="20" height="20" viewBox="0 0 20 20"><rect x="0.5" y="0.5" width="19" height="19" rx="1" fill="#f6f6f4" stroke="#6a6a6a"/><rect x="1" y="1" width="18" height="2.6" fill="#8a8a8a"/><path d="M10 3.5v16" stroke="#e0e0e0" stroke-width=".6"/><path d="M3 6.8h5M11.5 6.8h5M3 9.8h5M11.5 9.8h5M3 12.8h5M11.5 12.8h5M3 15.8h5M11.5 15.8h5" stroke="#7e7e7e" stroke-width="1.1"/></svg>
<div class="a" style="left:610px;top:424px;width:42px;height:34px;background:#d9d5d1;border-radius:5px"></div>
<svg class="a" style="left:619px;top:431px;" width="24" height="22" viewBox="0 0 24 22"><path d="M1 21V10.5L7.5 12.4 13.3 1.9 16.3 19.4 21.6 7.1V21z" fill="#6d9bd6"/><path d="M2.3 10.3L7.5 12.4 13.3 1.9 16.3 19.4 21.6 7.1" fill="none" stroke="#2e5d9e" stroke-width=".9"/><g fill="#fff" stroke="#2e5d9e" stroke-width=".8"><circle cx="2.3" cy="10.3" r="1.3"/><circle cx="7.5" cy="12.4" r="1.3"/><circle cx="13.3" cy="1.9" r="1.3"/><circle cx="16.3" cy="19.4" r="1.3"/><circle cx="21.6" cy="7.1" r="1.3"/></g></svg>
<div class="a" style="left:659px;top:424px;width:1px;height:34px;background:#dcd8d4"></div>
<svg class="a" style="left:678px;top:430px;" width="21" height="21" viewBox="0 0 21 21"><path d="M15.8 5.2A7.3 7.3 0 1 0 17.6 13.5" fill="none" stroke="#8e8e8e" stroke-width="4.6"/><path d="M15.8 5.2A7.3 7.3 0 1 0 17.6 13.5" fill="none" stroke="#fafafa" stroke-width="2.8"/><path d="M19 1.2v8.8h-8.8z" fill="#fafafa" stroke="#8e8e8e" stroke-width=".9" stroke-linejoin="round"/><path d="M14.5 6.8l2.5-2.5" stroke="#fafafa" stroke-width="2"/></svg>
<svg class="a" style="left:720px;top:432px;" width="22" height="20" viewBox="0 0 22 20"><rect x="3" y="0.5" width="16" height="7" fill="#ddd" stroke="#333"/><rect x="0.5" y="5" width="21" height="11" rx="2" fill="#555" stroke="#222"/><rect x="4" y="3" width="3" height="1.5" fill="#555"/><rect x="5" y="10" width="12" height="9" fill="#fff" stroke="#333" stroke-width=".8"/><path d="M6 12l5 3 4 1" stroke="#7c7" stroke-width="1.5" fill="none"/><rect x="1" y="14" width="20" height="4" fill="#333"/><rect x="5" y="13" width="12" height="3.5" fill="#e8f0e8"/></svg>
<div class="t" style="right:380.29999999999995px;text-align:right;top:467px;font-size:11.4px;color:#2e3436;">0/7 en dessous de 0,00 €</div>
<div class="a" style="left:563px;top:491px;width:584px;height:409px;background:#fff;border-left:1px solid #c9c3be;border-top:1px solid #c9c3be;box-sizing:border-box"></div>
<div class="t" style="left:575.8px;top:508px;font-size:17px;color:#111;">Solde par Jour</div>
<svg class="a" style="left:0;top:0" width="1521" height="933"><path d="M651 864.3L651.0 557.1L724.9 622.7L798.9 623.5L872.8 633.2L946.9 642.4L1020.7 642.7L1094.8 708.3L1094.8 864.3z" fill="#c0d0e3"/><path d="M614 820.5H1134" stroke="#000" stroke-opacity=".11" stroke-width="1"/><path d="M614 776.5H1134" stroke="#000" stroke-opacity=".11" stroke-width="1"/><path d="M614 732.5H1134" stroke="#000" stroke-opacity=".11" stroke-width="1"/><path d="M614 689.5H1134" stroke="#000" stroke-opacity=".11" stroke-width="1"/><path d="M614 645.5H1134" stroke="#000" stroke-opacity=".11" stroke-width="1"/><path d="M614 601.5H1134" stroke="#000" stroke-opacity=".11" stroke-width="1"/><path d="M614 557.5H1134" stroke="#000" stroke-opacity=".11" stroke-width="1"/><path d="M614 864.5H1134" stroke="#333" stroke-width="1"/><path d="M614 864.5H1134" stroke="#ee1111" stroke-width="1" stroke-dasharray="3 3"/><path d="M651.5 865V867" stroke="#333"/><path d="M725.5 865V867" stroke="#333"/><path d="M799.5 865V867" stroke="#333"/><path d="M873.5 865V867" stroke="#333"/><path d="M947.5 865V867" stroke="#333"/><path d="M1021.5 865V867" stroke="#333"/><path d="M1095.5 865V867" stroke="#333"/><path d="M651.0 557.1L724.9 622.7L798.9 623.5L872.8 633.2L946.9 642.4L1020.7 642.7L1094.8 708.3" fill="none" stroke="#4673af" stroke-width="3.6" stroke-linejoin="round"/><circle cx="651.0" cy="557.1" r="4.4" fill="#4673af" stroke="#fff" stroke-width="1"/><circle cx="724.9" cy="622.7" r="4.4" fill="#4673af" stroke="#fff" stroke-width="1"/><circle cx="798.9" cy="623.5" r="4.4" fill="#4673af" stroke="#fff" stroke-width="1"/><circle cx="872.8" cy="633.2" r="4.4" fill="#4673af" stroke="#fff" stroke-width="1"/><circle cx="946.9" cy="642.4" r="4.4" fill="#4673af" stroke="#fff" stroke-width="1"/><circle cx="1020.7" cy="642.7" r="4.4" fill="#4673af" stroke="#fff" stroke-width="1"/><circle cx="1094.8" cy="708.3" r="4.4" fill="#4673af" stroke="#fff" stroke-width="1"/></svg>
<div class="t" style="right:909.5px;text-align:right;top:849.5px;font-size:10.8px;color:#333;">0 €</div>
<div class="t" style="right:909.5px;text-align:right;top:805.5px;font-size:10.8px;color:#333;">500 €</div>
<div class="t" style="right:909.5px;text-align:right;top:761.5px;font-size:10.8px;color:#333;">1 000 €</div>
<div class="t" style="right:909.5px;text-align:right;top:717.5px;font-size:10.8px;color:#333;">1 500 €</div>
<div class="t" style="right:909.5px;text-align:right;top:674.5px;font-size:10.8px;color:#333;">2 000 €</div>
<div class="t" style="right:909.5px;text-align:right;top:630.5px;font-size:10.8px;color:#333;">2 500 €</div>
<div class="t" style="right:909.5px;text-align:right;top:586.5px;font-size:10.8px;color:#333;">3 000 €</div>
<div class="t" style="right:909.5px;text-align:right;top:542.5px;font-size:10.8px;color:#333;">3 500 €</div>
<div class="t" style="left:252px;width:800px;text-align:center;top:866px;font-size:11.5px;color:#333;">31/10/2023</div>
<div class="t" style="left:325.9px;width:800px;text-align:center;top:866px;font-size:11.5px;color:#333;">01/11/2023</div>
<div class="t" style="left:399.9px;width:800px;text-align:center;top:866px;font-size:11.5px;color:#333;">05/11/2023</div>
<div class="t" style="left:473.79999999999995px;width:800px;text-align:center;top:866px;font-size:11.5px;color:#333;">10/11/2023</div>
<div class="t" style="left:547.9px;width:800px;text-align:center;top:866px;font-size:11.5px;color:#333;">11/11/2023</div>
<div class="t" style="left:621.7px;width:800px;text-align:center;top:866px;font-size:11.5px;color:#333;">12/11/2023</div>
<div class="t" style="left:695.8px;width:800px;text-align:center;top:866px;font-size:11.5px;color:#333;">01/12/2023</div>
</body></html>
